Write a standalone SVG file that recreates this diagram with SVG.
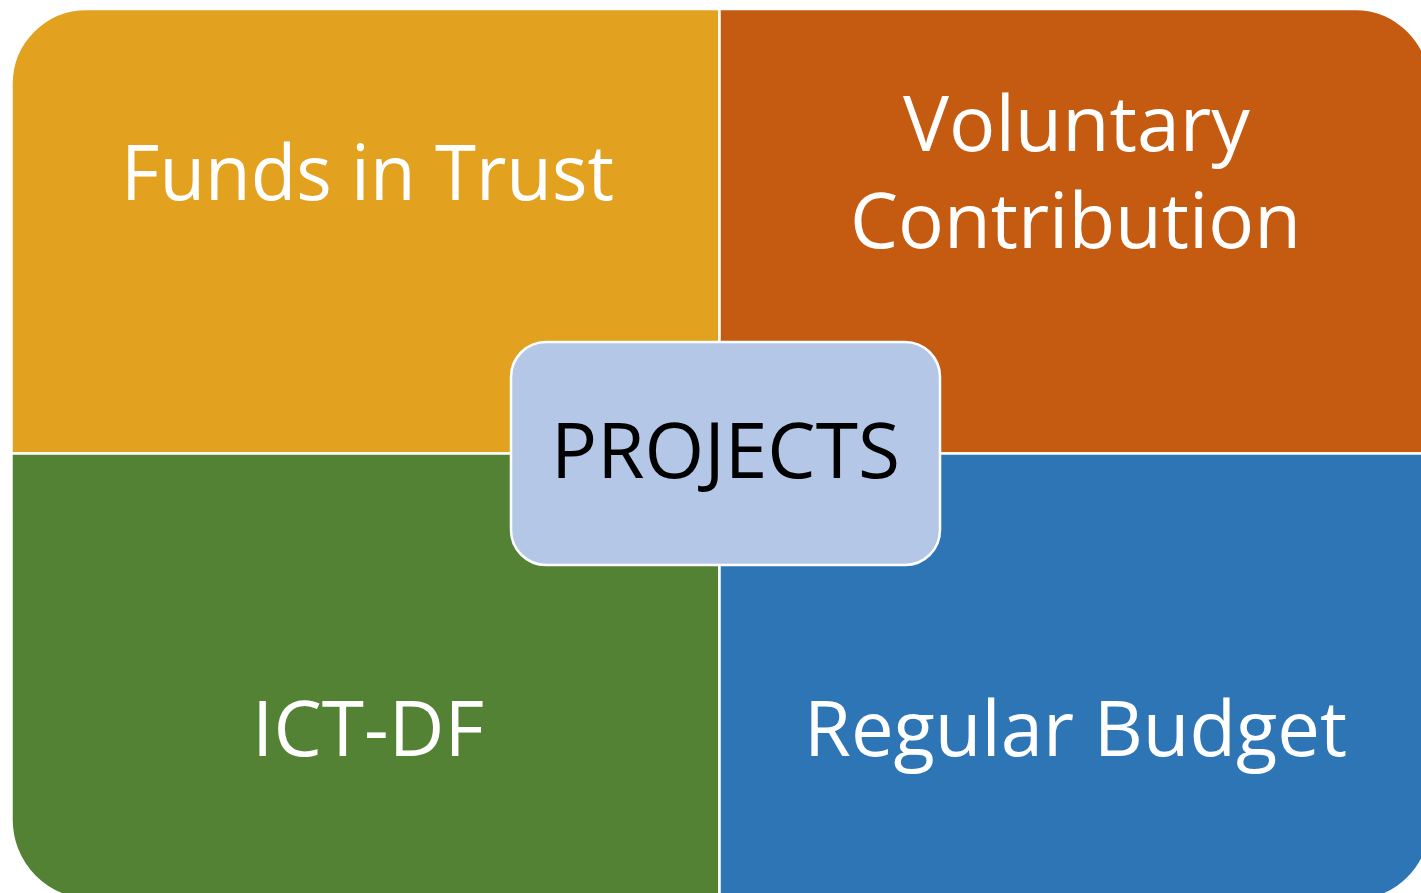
<svg xmlns="http://www.w3.org/2000/svg" width="1421" height="893" viewBox="0 0 1421 893">
  <style>
    .quad { stroke: #FFFFFF; stroke-width: 2.5; }
    .lbl { font-family: "Open Sans", "Liberation Sans", sans-serif; font-size: 77px; fill: #FFFFFF; }
    .center { fill: #B4C7E7; stroke: #FFFFFF; stroke-width: 2.5; }
    .clbl { font-family: "Open Sans", "Liberation Sans", sans-serif; font-size: 77px; fill: #000000; }
  </style>
  <rect width="1421" height="893" fill="#FFFFFF"/>
  <g id="funds-in-trust">
    <path class="quad" fill="#E2A11E" d="M11.5,84 A75,75 0 0 1 86.5,9 L719.5,9 L719.5,453.5 L11.5,453.5 Z"/>
    <text class="lbl" x="121" y="200" textLength="493" lengthAdjust="spacingAndGlyphs">Funds in Trust</text>
  </g>
  <g id="voluntary-contribution">
    <path class="quad" fill="#C55A11" d="M719.5,9 L1355,9 A75,75 0 0 1 1430,84 L1430,453.5 L719.5,453.5 Z"/>
    <text class="lbl" x="903" y="151" textLength="347" lengthAdjust="spacingAndGlyphs">Voluntary</text>
    <text class="lbl" x="850" y="248" textLength="451" lengthAdjust="spacingAndGlyphs">Contribution</text>
  </g>
  <g id="ict-df">
    <path class="quad" fill="#548235" d="M11.5,453.5 L719.5,453.5 L719.5,900 L91.5,900 A80,80 0 0 1 11.5,820 Z"/>
    <text class="lbl" x="252" y="756" textLength="232" lengthAdjust="spacingAndGlyphs">ICT-DF</text>
  </g>
  <g id="regular-budget">
    <path class="quad" fill="#2E75B6" d="M719.5,453.5 L1430,453.5 L1430,825 A75,75 0 0 1 1355,900 L719.5,900 Z"/>
    <text class="lbl" x="804" y="756" textLength="543" lengthAdjust="spacingAndGlyphs">Regular Budget</text>
  </g>
  <g id="projects">
    <rect class="center" x="511" y="342" width="429" height="223" rx="35" ry="35"/>
    <text class="clbl" x="551" y="478" textLength="349" lengthAdjust="spacingAndGlyphs">PROJECTS</text>
  </g>
</svg>
